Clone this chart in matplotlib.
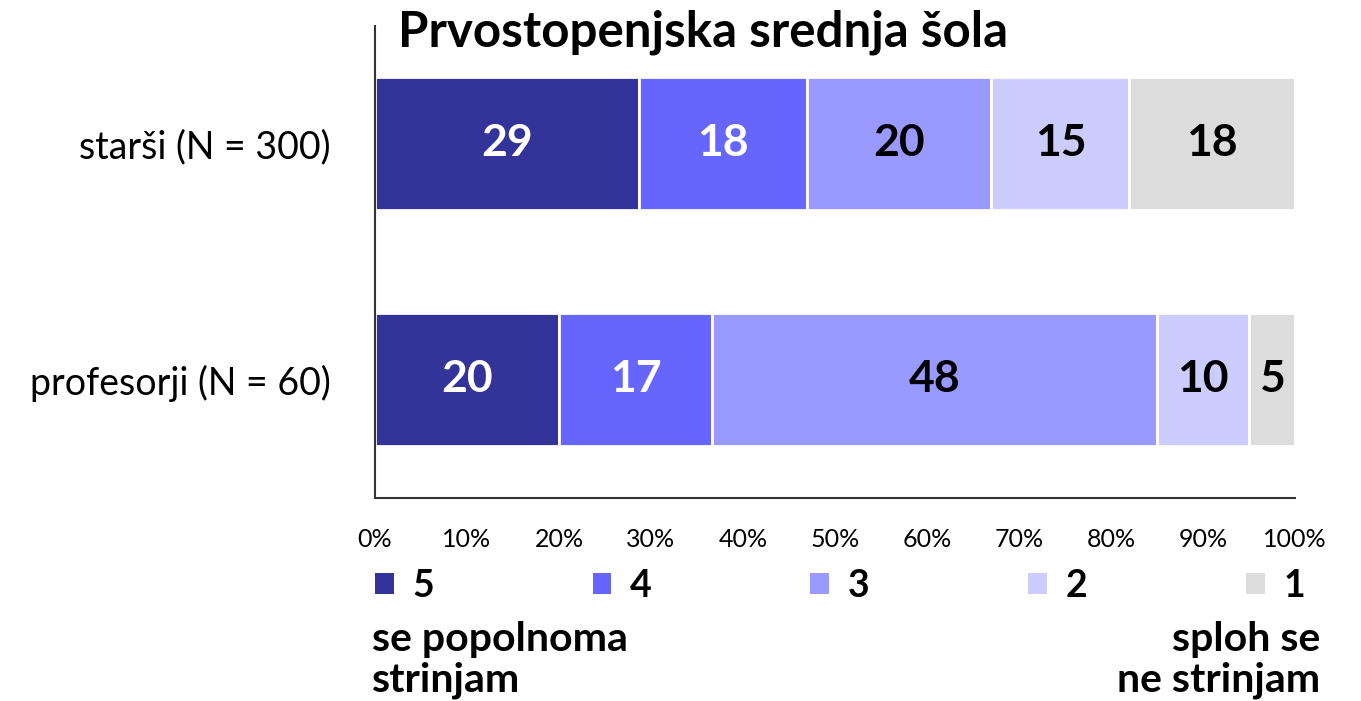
import matplotlib.pyplot as plt
from matplotlib.patches import Patch

plt.rcParams['font.family'] = ['Lato', 'DejaVu Sans']

skupine = ["starši (N = 300)", "profesorji (N = 60)"]
ocene = ["5", "4", "3", "2", "1"]
barve = ["#333399", "#6666FF", "#9999FF", "#CCCCFF", "#DDDDDD"]
barve_napisov = ["white", "white", "black", "black", "black"]

# deleži v odstotkih (starši 300, profesorji 60)
starsi = [28.67, 18.33, 20.0, 15.0, 18.0]
profesorji = [20.0, 16.67, 48.33, 10.0, 5.0]
napisi_starsi = [29, 18, 20, 15, 18]
napisi_profesorji = [20, 17, 48, 10, 5]

podatki = [starsi, profesorji]
napisi = [napisi_starsi, napisi_profesorji]

fig = plt.figure(figsize=(13.61, 7.01), dpi=100)
ax = fig.add_axes([375 / 1361, 1 - 497.5 / 701, 920 / 1361, 472 / 701])

for i in range(len(ocene)):
    vrednosti = [p[i] for p in podatki]
    levo = [sum(p[:i]) for p in podatki]
    bars = ax.barh(range(len(skupine)), vrednosti, left=levo, height=0.565,
                   color=barve[i], edgecolor="white", linewidth=2, label=ocene[i])
    for j, b in enumerate(bars):
        ax.text(b.get_x() + b.get_width() / 2, b.get_y() + b.get_height() / 2,
                str(napisi[j][i]), ha="center", va="center", fontsize=32,
                fontweight="bold", color=barve_napisov[i])

ax.set_xlim(0, 100)
ax.set_ylim(1.5, -0.5)
ax.set_yticks(range(len(skupine)))
ax.set_yticklabels(skupine, fontsize=27)
ax.set_xticks(range(0, 101, 10))
ax.set_xticklabels([f"{t}%" for t in range(0, 101, 10)], fontsize=18)
ax.tick_params(axis="both", length=0)
ax.tick_params(axis="x", pad=22)
ax.tick_params(axis="y", pad=32)
ax.spines["top"].set_visible(False)
ax.spines["right"].set_visible(False)
ax.spines["left"].set_color("#333333")
ax.spines["bottom"].set_color("#333333")
ax.spines["left"].set_linewidth(1.5)
ax.spines["bottom"].set_linewidth(1.5)

fig.text(398 / 1361, 1 - 32 / 701, "Prvostopenjska srednja šola", fontsize=35.5,
         fontweight="bold", ha="left", va="center")

rocke = [Patch(facecolor=barve[i], label=ocene[i]) for i in range(len(ocene))]
fig.legend(handles=rocke, loc="center left", mode="expand",
           bbox_to_anchor=(375 / 1361, 1 - 606 / 701, 930 / 1361, 40 / 701),
           ncol=5, frameon=False, prop={"size": 27, "weight": "bold"},
           borderpad=0, borderaxespad=0,
           handlelength=0.5, handleheight=0.5, handletextpad=0.5)

fig.text(372 / 1361, 1 - 660 / 701, "se popolnoma\nstrinjam", fontsize=29.5,
         fontweight="bold", ha="left", va="center", linespacing=1.12)
fig.text(1320 / 1361, 1 - 660 / 701, "sploh se\nne strinjam", fontsize=29.5,
         fontweight="bold", ha="right", va="center", multialignment="right",
         linespacing=1.12)

fig.savefig("out.png", dpi=100)
